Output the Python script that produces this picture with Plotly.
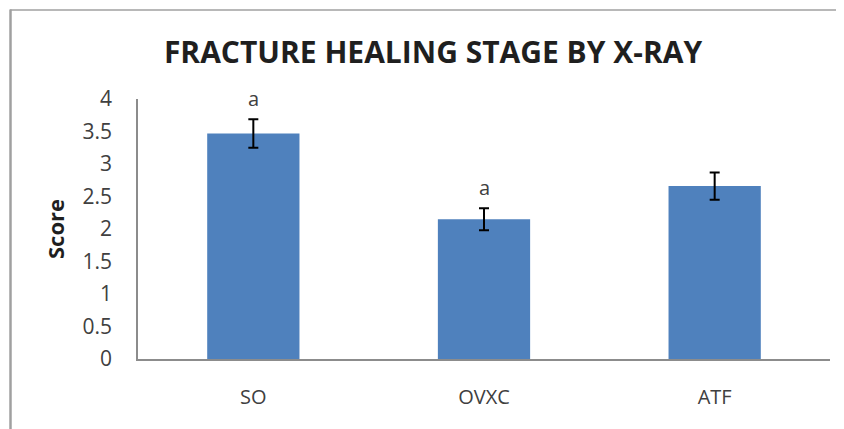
import plotly.graph_objects as go

categories = ["SO", "OVXC", "ATF"]
scores = [3.47, 2.15, 2.66]
errors = [0.22, 0.17, 0.21]
sig_labels = ["a", "a", ""]
y_ticks = [0, 0.5, 1, 1.5, 2, 2.5, 3, 3.5, 4]
y_tick_labels = ["0", "0.5", "1", "1.5", "2", "2.5", "3", "3.5", "4"]

FONT = "Open Sans"
W, H = 844, 429
# the page body adds an 8px offset; plot area on screen spans x 138-830, y 99-359
L, R, T, B = 130, 22, 91, 78
pw, ph = W - L - R, H - T - B

fig = go.Figure(go.Bar(
    x=categories, y=scores,
    marker=dict(color="#4f81bd", line=dict(width=0)),
    error_y=dict(type="data", array=errors, visible=True, color="black", thickness=2, width=5),
))

for c, v, e, s in zip(categories, scores, errors, sig_labels):
    if s:
        fig.add_annotation(x=c, y=v + e, text=s, showarrow=False, yanchor="bottom", yshift=5,
                           font=dict(family=FONT, size=20, color="#404040"))

def px2paper_x(px):
    return (px - L) / pw

def px2paper_y(py):
    return (H - B - py) / ph

# outer chart border (top and left visible)
fig.add_shape(type="line", xref="paper", yref="paper",
              x0=px2paper_x(2), x1=px2paper_x(850), y0=px2paper_y(2), y1=px2paper_y(2),
              line=dict(color="#a0a0a0", width=1.5))
fig.add_shape(type="line", xref="paper", yref="paper",
              x0=px2paper_x(2.5), x1=px2paper_x(2.5), y0=px2paper_y(1.5), y1=px2paper_y(440),
              line=dict(color="#a0a0a0", width=2.5))

fig.update_layout(
    width=W, height=H,
    margin=dict(l=L, r=R, t=T, b=B),
    paper_bgcolor="white", plot_bgcolor="white",
    bargap=0.6,
    showlegend=False,
    title=dict(text="<b>FRACTURE HEALING STAGE BY X-RAY</b>", x=425 / W, xanchor="center",
               y=1 - 44 / H, yanchor="middle",
               font=dict(family=FONT, size=30, color="#1f1f1f")),
    font=dict(family=FONT, color="#404040"),
)
fig.update_xaxes(showline=True, linecolor="#8c8c8c", linewidth=1.5, ticks="",
                 tickfont=dict(size=20, color="#404040"), ticklabelstandoff=19,
                 showgrid=False)
fig.update_yaxes(range=[0, 4], tickvals=y_ticks, ticktext=y_tick_labels,
                 showline=True, linecolor="#8c8c8c", linewidth=1.5, ticks="",
                 tickfont=dict(size=21, color="#404040"), ticklabelstandoff=20,
                 showgrid=False, zeroline=False,
                 title=dict(text="<b>Score</b>", font=dict(size=22, color="#1f1f1f"), standoff=12))

fig.write_html("out.html")
